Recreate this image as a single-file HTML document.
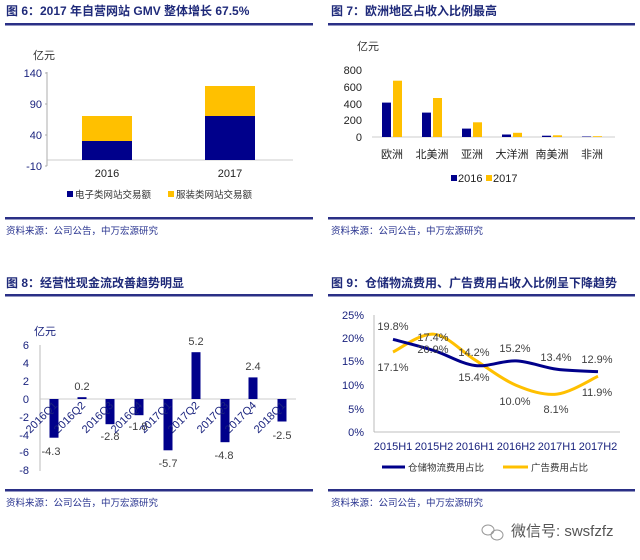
<!DOCTYPE html>
<html><head><meta charset="utf-8"><style>
body{margin:0;background:#fff;}
svg{display:block;font-family:"Liberation Sans","Noto Sans CJK SC",sans-serif;}
.t{font-size:12px;font-weight:bold;fill:#1f2a7a;}
.s{font-size:9.5px;fill:#2a3590;}
.ax{font-size:11px;fill:#1a237e;}
.v{font-size:11px;fill:#404040;}
</style></head><body>
<svg width="640" height="560" viewBox="0 0 640 560">
<!-- Panel 1 -->
<text class="t" x="6" y="15">图 6：2017 年自营网站 GMV 整体增长 67.5%</text>
<rect x="5" y="23" width="308" height="2.5" fill="#2a2f86"/>
<text x="33" y="59" font-size="11" fill="#333">亿元</text>
<g class="ax" text-anchor="end">
<text x="42" y="77">140</text><text x="42" y="108">90</text><text x="42" y="139">40</text><text x="42" y="170">-10</text></g>
<line x1="47" y1="72" x2="47" y2="166" stroke="#999" stroke-width="0.8"/>
<g stroke="#999" stroke-width="0.8"><line x1="45" y1="73" x2="47" y2="73"/><line x1="45" y1="104" x2="47" y2="104"/><line x1="45" y1="135" x2="47" y2="135"/><line x1="45" y1="166" x2="47" y2="166"/></g>
<line x1="47" y1="160" x2="293" y2="160" stroke="#bbb" stroke-width="0.8"/>
<rect x="82" y="116" width="50" height="25" fill="#ffc000"/><rect x="82" y="141" width="50" height="19" fill="#00008b"/>
<rect x="205" y="86" width="50" height="30" fill="#ffc000"/><rect x="205" y="116" width="50" height="44" fill="#00008b"/>
<g font-size="11" fill="#222" text-anchor="middle"><text x="107" y="177">2016</text><text x="230" y="177">2017</text></g>
<rect x="67" y="191" width="6" height="6" fill="#00008b"/><text x="75" y="198" font-size="9.5" fill="#333">电子类网站交易额</text>
<rect x="168" y="191" width="6" height="6" fill="#ffc000"/><text x="176" y="198" font-size="9.5" fill="#333">服装类网站交易额</text>
<rect x="5" y="217" width="308" height="2.5" fill="#2a2f86"/>
<text class="s" x="6" y="234">资料来源：公司公告，中万宏源研究</text>

<!-- Panel 2 -->
<text class="t" x="331" y="15">图 7：欧洲地区占收入比例最高</text>
<rect x="328" y="23" width="307" height="2.5" fill="#2a2f86"/>
<text x="357" y="50" font-size="11" fill="#333">亿元</text>
<g font-size="11" fill="#222" text-anchor="end">
<text x="362" y="74">800</text><text x="362" y="91">600</text><text x="362" y="108">400</text><text x="362" y="124">200</text><text x="362" y="141">0</text></g>
<line x1="372" y1="137" x2="615" y2="137" stroke="#ccc" stroke-width="1"/>
<g fill="#00008b">
<rect x="382" y="102.6" width="9" height="34.4"/><rect x="422" y="112.6" width="9" height="24.4"/><rect x="462" y="128.6" width="9" height="8.4"/><rect x="502" y="134.5" width="9" height="2.5"/><rect x="542" y="135.7" width="9" height="1.3"/><rect x="582" y="136.5" width="9" height="0.5"/></g>
<g fill="#ffc000">
<rect x="393" y="80.7" width="9" height="56.3"/><rect x="433" y="98" width="9" height="39"/><rect x="473" y="122.3" width="9" height="14.7"/><rect x="513" y="132.8" width="9" height="4.2"/><rect x="553" y="135.3" width="9" height="1.7"/><rect x="593" y="136.2" width="9" height="0.8"/></g>
<g font-size="11" fill="#222" text-anchor="middle">
<text x="392" y="158">欧洲</text><text x="432" y="158">北美洲</text><text x="472" y="158">亚洲</text><text x="512" y="158">大洋洲</text><text x="552" y="158">南美洲</text><text x="592" y="158">非洲</text></g>
<rect x="451" y="175" width="6" height="6" fill="#00008b"/><text x="458" y="182" font-size="11" fill="#222">2016</text>
<rect x="486" y="175" width="6" height="6" fill="#ffc000"/><text x="493" y="182" font-size="11" fill="#222">2017</text>
<rect x="328" y="217" width="307" height="2.5" fill="#2a2f86"/>
<text class="s" x="331" y="234">资料来源：公司公告，中万宏源研究</text>

<!-- Panel 3 -->
<text class="t" x="6" y="287">图 8：经营性现金流改善趋势明显</text>
<rect x="5" y="294" width="308" height="2.5" fill="#2a2f86"/>
<text x="34" y="335" font-size="11" fill="#1a237e">亿元</text>
<g class="ax" text-anchor="end">
<text x="29" y="349">6</text><text x="29" y="367">4</text><text x="29" y="385">2</text><text x="29" y="403">0</text><text x="29" y="421">-2</text><text x="29" y="439">-4</text><text x="29" y="456">-6</text><text x="29" y="474">-8</text></g>
<line x1="40" y1="345" x2="40" y2="471" stroke="#aaa" stroke-width="0.8"/>
<line x1="40" y1="399" x2="296" y2="399" stroke="#ccc" stroke-width="1"/>
<g fill="#00008b">
<rect x="49.5" y="399" width="9" height="38.7"/><rect x="77.5" y="397.2" width="9" height="1.8"/><rect x="105.5" y="399" width="9" height="25.2"/><rect x="134.5" y="399" width="9" height="16.2"/><rect x="163.5" y="399" width="9" height="51.3"/><rect x="191.5" y="352.2" width="9" height="46.8"/><rect x="220.5" y="399" width="9" height="43.2"/><rect x="248.5" y="377.4" width="9" height="21.6"/><rect x="277.5" y="399" width="9" height="22.5"/></g>
<g class="v" text-anchor="middle">
<text x="51" y="455">-4.3</text><text x="82" y="390">0.2</text><text x="110" y="440">-2.8</text><text x="138" y="430">-1.8</text><text x="168" y="467">-5.7</text><text x="196" y="345">5.2</text><text x="224" y="459">-4.8</text><text x="253" y="370">2.4</text><text x="282" y="439">-2.5</text></g>
<g class="ax" text-anchor="end">
<text transform="translate(58,406) rotate(-45)">2016Q1</text>
<text transform="translate(86,406) rotate(-45)">2016Q2</text>
<text transform="translate(114,406) rotate(-45)">2016Q3</text>
<text transform="translate(143,406) rotate(-45)">2016Q4</text>
<text transform="translate(172,406) rotate(-45)">2017Q1</text>
<text transform="translate(200,406) rotate(-45)">2017Q2</text>
<text transform="translate(229,406) rotate(-45)">2017Q3</text>
<text transform="translate(257,406) rotate(-45)">2017Q4</text>
<text transform="translate(286,406) rotate(-45)">2018Q1</text></g>
<rect x="5" y="489" width="308" height="2.5" fill="#2a2f86"/>
<text class="s" x="6" y="506">资料来源：公司公告，中万宏源研究</text>

<!-- Panel 4 -->
<text class="t" x="331" y="287">图 9：仓储物流费用、广告费用占收入比例呈下降趋势</text>
<rect x="328" y="294" width="307" height="2.5" fill="#2a2f86"/>
<g class="ax" text-anchor="end">
<text x="364" y="319">25%</text><text x="364" y="342">20%</text><text x="364" y="365">15%</text><text x="364" y="389">10%</text><text x="364" y="413">5%</text><text x="364" y="436">0%</text></g>
<line x1="374" y1="315" x2="374" y2="432" stroke="#aaa" stroke-width="0.8"/>
<line x1="374" y1="432" x2="620" y2="432" stroke="#aaa" stroke-width="0.8"/>
<g class="ax" text-anchor="middle">
<text x="393" y="450">2015H1</text><text x="434" y="450">2015H2</text><text x="475" y="450">2016H1</text><text x="516" y="450">2016H2</text><text x="557" y="450">2017H1</text><text x="598" y="450">2017H2</text></g>
<path id="py" fill="none" stroke="#ffc000" stroke-width="3"/>
<path id="pb" fill="none" stroke="#00008b" stroke-width="3"/>
<g class="v" text-anchor="middle">
<text x="393" y="330">19.8%</text><text x="393" y="371">17.1%</text>
<text x="433" y="341">17.4%</text><text x="433" y="353">20.9%</text>
<text x="474" y="356">14.2%</text><text x="474" y="381">15.4%</text>
<text x="515" y="352">15.2%</text><text x="515" y="405">10.0%</text>
<text x="556" y="361">13.4%</text><text x="556" y="413">8.1%</text>
<text x="597" y="363">12.9%</text><text x="597" y="396">11.9%</text></g>
<line x1="382" y1="467" x2="405" y2="467" stroke="#00008b" stroke-width="3"/>
<text x="408" y="471" font-size="9.5" fill="#333">仓储物流费用占比</text>
<line x1="503" y1="467" x2="528" y2="467" stroke="#ffc000" stroke-width="3"/>
<text x="531" y="471" font-size="9.5" fill="#333">广告费用占比</text>
<rect x="328" y="489" width="307" height="2.5" fill="#2a2f86"/>
<text class="s" x="331" y="506">资料来源：公司公告，中万宏源研究</text>
<g fill="none" stroke="#999" stroke-width="1"><ellipse cx="488" cy="530" rx="6" ry="5"/><ellipse cx="497" cy="535" rx="6" ry="5"/></g>
<text x="511" y="536" font-size="15" fill="#555">微信号: swsfzfz</text>
</svg>
<script>
function sm(pts){var d="M"+pts[0][0]+","+pts[0][1];for(var i=0;i<pts.length-1;i++){var p0=pts[i-1]||pts[i],p1=pts[i],p2=pts[i+1],p3=pts[i+2]||p2;var c1x=p1[0]+(p2[0]-p0[0])/6,c1y=p1[1]+(p2[1]-p0[1])/6,c2x=p2[0]-(p3[0]-p1[0])/6,c2y=p2[1]-(p3[1]-p1[1])/6;d+=" C"+c1x+","+c1y+" "+c2x+","+c2y+" "+p2[0]+","+p2[1];}return d;}
var xs=[393,434,475,516,557,598];function y(v){return 432-v*4.68;}
var b=[19.8,17.4,14.2,15.2,13.4,12.9],g=[17.1,20.9,15.4,10.0,8.1,11.9];
document.getElementById("pb").setAttribute("d",sm(xs.map(function(x,i){return[x,y(b[i])]})));
document.getElementById("py").setAttribute("d",sm(xs.map(function(x,i){return[x,y(g[i])]})));
</script>
</body></html>
